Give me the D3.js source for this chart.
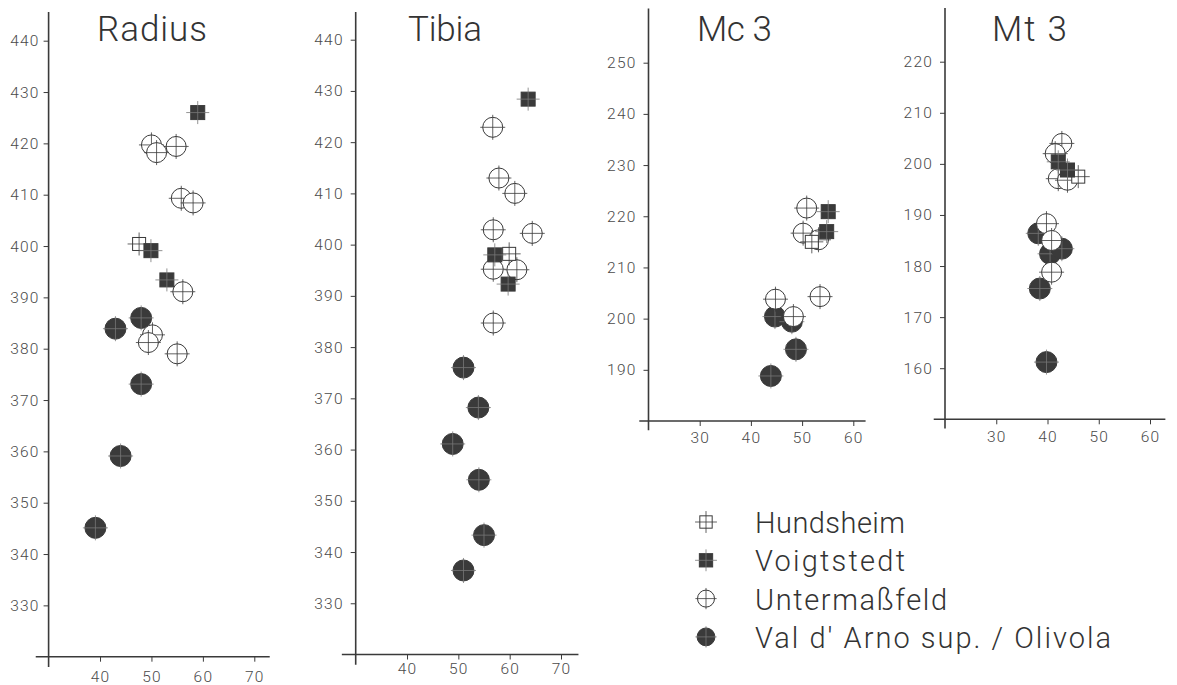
<!DOCTYPE html>
<html>
<head>
<meta charset="utf-8">
<script src="https://cdnjs.cloudflare.com/ajax/libs/d3/7.8.5/d3.min.js"></script>
<style>
  body { margin: 0; background: #fff; }
  svg { display: block; font-family: Roboto, 'DejaVu Sans', sans-serif; font-weight: 300; }
</style>
</head>
<body>
<div id="chart"></div>
<script>
const groups = ['Hundsheim', 'Voigtstedt', 'Untermaßfeld', 'Val d\' Arno sup. / Olivola'];

// [width, length] pairs
const radiusHundsheim = [[47.6, 400.4]];
const radiusVoigtstedt = [[59, 426], [49.9, 399.1], [53, 393.4]];
const radiusUntermassfeld = [[50, 419.7], [51, 418.2], [54.8, 419.4], [55.8, 409.3], [58.1, 408.4], [56.1, 391.1], [50.2, 382.7], [49.4, 381.2], [55, 379]];
const radiusValdarno = [[48, 386], [43, 383.9], [48, 373.1], [44, 359.1], [39.1, 345.1]];

const tibiaHundsheim = [[59.9, 398.2]];
const tibiaVoigtstedt = [[63.6, 428.4], [57.1, 398], [59.7, 392.3]];
const tibiaUntermassfeld = [[56.7, 422.9], [57.9, 413], [61, 410], [56.8, 402.9], [64.4, 402.2], [56.8, 395.2], [61.4, 395.1], [56.8, 384.7]];
const tibiaValdarno = [[51, 376], [53.9, 368.2], [48.9, 361.1], [54, 354.1], [55, 343.3], [51, 336.4]];

const mc3Hundsheim = [[51.9, 215]];
const mc3Voigtstedt = [[55.1, 220.9], [54.8, 217]];
const mc3Untermassfeld = [[50.9, 221.6], [50.2, 216.7], [53.2, 215.4], [53.5, 204.3], [44.8, 203.8], [48.3, 200.4]];
const mc3Valdarno = [[44.7, 200.4], [48, 199.4], [48.8, 194], [43.9, 188.8]];

const mt3Hundsheim = [[46, 197.5]];
const mt3Voigtstedt = [[42.1, 200.4], [43.9, 198.8]];
const mt3Untermassfeld = [[42.8, 204], [41.5, 202], [42.1, 197.1], [43.9, 196.8], [39.8, 188.3], [40.8, 185], [40.8, 178.8]];
const mt3Valdarno = [[38.2, 186.4], [40.5, 182.4], [42.8, 183.4], [38.5, 175.6], [39.8, 161.2]];

const longBoneTicksX = [40, 50, 60, 70];
const longBoneTicksY = [330, 340, 350, 360, 370, 380, 390, 400, 410, 420, 430, 440];
const mc3TicksX = [30, 40, 50, 60];
const mc3TicksY = [190, 200, 210, 220, 230, 240, 250];
const mt3TicksX = [30, 40, 50, 60];
const mt3TicksY = [160, 170, 180, 190, 200, 210, 220];

const width = 1177;
const height = 685;
const ink = '#3a3a3a';
const textInk = '#4a4a4a';

const panels = [
  { title: 'Radius', titleX: 97, titleW: 110,
    data: [radiusHundsheim, radiusVoigtstedt, radiusUntermassfeld, radiusValdarno],
    xDomain: [30, 70], xRange: [48.6, 254.3], yDomain: [320, 440], yRange: [656.7, 40.7],
    xTicks: longBoneTicksX, yTicks: longBoneTicksY,
    xLine: [27.5, 73], yLine: [318, 445.6], xPad: 9, yPad: 4 },
  { title: 'Tibia', titleX: 408, titleW: 74,
    data: [tibiaHundsheim, tibiaVoigtstedt, tibiaUntermassfeld, tibiaValdarno],
    xDomain: [30, 70], xRange: [355.7, 561], yDomain: [320, 440], yRange: [654.5, 39.7],
    xTicks: longBoneTicksX, yTicks: longBoneTicksY,
    xLine: [27.3, 73.4], yLine: [318, 445.4], xPad: 3, yPad: 7 },
  { title: 'Mc 3', titleX: 697, titleW: 75,
    data: [mc3Hundsheim, mc3Voigtstedt, mc3Untermassfeld, mc3Valdarno],
    xDomain: [20, 60], xRange: [648.5, 853.3], yDomain: [180, 250], yRange: [421, 62.7],
    xTicks: mc3TicksX, yTicks: mc3TicksY,
    xLine: [18.2, 62.4], yLine: [178.2, 260.6], xPad: 6, yPad: 7 },
  { title: 'Mt 3', titleX: 992, titleW: 75,
    data: [mt3Hundsheim, mt3Voigtstedt, mt3Untermassfeld, mt3Valdarno],
    xDomain: [20, 60], xRange: [945, 1150], yDomain: [150, 220], yRange: [419.3, 61.7],
    xTicks: mt3TicksX, yTicks: mt3TicksY,
    xLine: [17.8, 63], yLine: [148.2, 230.5], xPad: 7, yPad: 7 }
];

const symbols = ['squareOpen', 'squareFilled', 'circleOpen', 'circleFilled'];

const svg = d3.select('#chart').
append('svg').
attr('width', width).
attr('height', height);

function drawMarker(g, kind, scale) {
  const round = kind.startsWith('circle');
  const filled = kind.endsWith('Filled');
  const half = round ? (filled ? 10.5 : 10) * scale : (filled ? 7 : 6.5) * scale;
  const arm = round ? 12.5 * scale : 11.5 * scale;

  if (round) {
    g.append('circle').
    attr('r', half).
    attr('fill', filled ? ink : '#fff').
    attr('stroke', ink).
    attr('stroke-width', 1);
  } else {
    g.append('rect').
    attr('x', -half).
    attr('y', -half).
    attr('width', half * 2).
    attr('height', half * 2).
    attr('fill', filled ? ink : '#fff').
    attr('stroke', ink).
    attr('stroke-width', 1);
  }

  g.append('path').
  attr('d', 'M' + -arm + ',0H' + arm + 'M0,' + -arm + 'V' + arm).
  attr('stroke', filled ? '#777' : ink).
  attr('stroke-width', 0.8);
}

panels.forEach(function (p) {
  const x = d3.scaleLinear().domain(p.xDomain).range(p.xRange);
  const y = d3.scaleLinear().domain(p.yDomain).range(p.yRange);
  const g = svg.append('g');

  g.append('line').
  attr('x1', x(p.xLine[0])).
  attr('x2', x(p.xLine[1])).
  attr('y1', y(p.yDomain[0])).
  attr('y2', y(p.yDomain[0])).
  attr('stroke', ink).
  attr('stroke-width', 1.6);

  g.append('line').
  attr('x1', x(p.xDomain[0])).
  attr('x2', x(p.xDomain[0])).
  attr('y1', y(p.yLine[0])).
  attr('y2', y(p.yLine[1])).
  attr('stroke', ink).
  attr('stroke-width', 1.6);

  const xAxis = g.append('g').
  attr('transform', 'translate(0,' + y(p.yDomain[0]) + ')').
  call(d3.axisBottom(x).tickValues(p.xTicks).tickSize(5).tickPadding(p.xPad));

  const yAxis = g.append('g').
  attr('transform', 'translate(' + x(p.xDomain[0]) + ',0)').
  call(d3.axisLeft(y).tickValues(p.yTicks).tickSize(5).tickPadding(p.yPad));

  [xAxis, yAxis].forEach(function (a) {
    a.select('.domain').remove();
    a.attr('font-family', null).attr('font-size', 15.5);
    a.selectAll('line').attr('stroke', ink).attr('stroke-width', 1);
    a.selectAll('text').attr('fill', textInk).attr('letter-spacing', 1.2);
  });

  g.append('text').
  attr('x', p.titleX).
  attr('y', 41).
  attr('font-size', 35).
  attr('fill', '#333').
  attr('textLength', p.titleW).
  attr('lengthAdjust', 'spacing').
  text(p.title);

  // open circles above filled ones, squares on top
  [3, 2, 0, 1].forEach(function (i) {
    g.append('g').
    selectAll('g').
    data(p.data[i]).
    enter().
    append('g').
    attr('transform', d => 'translate(' + x(d[0]) + ',' + y(d[1]) + ')').
    each(function () {
      drawMarker(d3.select(this), symbols[i], 1);
    });
  });
});

const legendWidths = [150, 150, 192, 356];
const legend = svg.append('g').
attr('transform', 'translate(706, 522)');

legend.selectAll('g').
data(groups).
enter().
append('g').
attr('transform', (d, i) => 'translate(0,' + i * 38.3 + ')').
each(function (d, i) {
  const row = d3.select(this);
  drawMarker(row.append('g'), symbols[i], i < 2 ? 0.95 : 0.85);
  row.append('text').
  attr('x', 49).
  attr('y', 11).
  attr('font-size', 29).
  attr('fill', '#333').
  attr('textLength', legendWidths[i]).
  attr('lengthAdjust', 'spacing').
  text(d);
});
</script>
</body>
</html>
